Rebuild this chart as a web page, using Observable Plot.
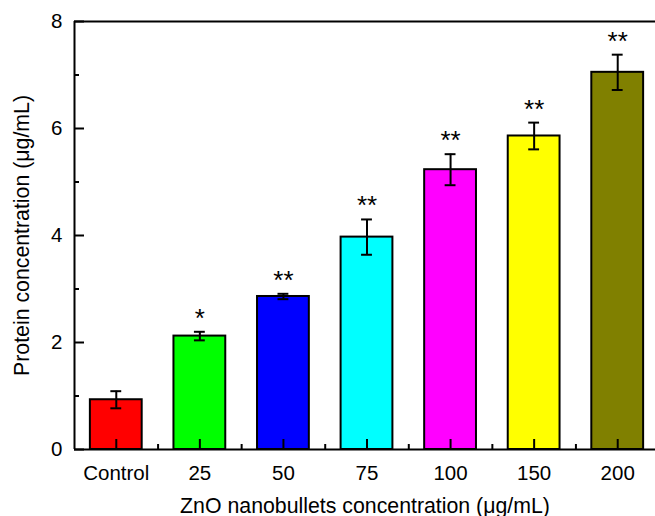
<!DOCTYPE html>
<html>
<head>
<meta charset="utf-8">
<script src="https://cdn.jsdelivr.net/npm/d3@7"></script>
<script src="https://cdn.jsdelivr.net/npm/@observablehq/plot@0.6"></script>
<style>
  html, body { margin: 0; padding: 0; background: white; }
</style>
</head>
<body>
<div id="chart"></div>
<script>
const categories = ["Control", "25", "50", "75", "100", "150", "200"];
const means = [0.93, 2.12, 2.86, 3.97, 5.23, 5.86, 7.05];
const errors = [0.16, 0.08, 0.05, 0.33, 0.29, 0.25, 0.33];
const colors = ["#ff0000", "#00ff00", "#0000ff", "#00ffff", "#ff00ff", "#ffff00", "#808000"];
const stars = ["", "*", "**", "**", "**", "**", "**"];
const yTicks = [0, 2, 4, 6, 8];
const yMinor = [1, 3, 5, 7];
const xMinor = [0.5, 1.5, 2.5, 3.5, 4.5, 5.5];
const xTitle = "ZnO nanobullets concentration (μg/mL)";
const yTitle = "Protein concentration (μg/mL)";

const data = categories.map((c, i) => ({
  i, c, mean: means[i], err: errors[i], color: colors[i], star: stars[i]
}));

const font = "'Liberation Sans', Arial, Helvetica, sans-serif";

const chart = Plot.plot({
  width: 655,
  height: 516,
  marginLeft: 74,
  marginRight: 0,
  marginTop: 21,
  marginBottom: 67,
  style: { fontFamily: font, fontSize: "20px", background: "white", color: "black" },
  x: { type: "linear", domain: [-0.5, 6.5], range: [74, 659], axis: null },
  y: { domain: [0, 8], axis: null },
  color: { type: "identity" },
  marks: [
    Plot.rectY(data, { x1: d => d.i - 0.31, x2: d => d.i + 0.31, y: "mean", fill: "color", stroke: "black", strokeWidth: 2 }),
    // error bars
    Plot.ruleX(data, { x: "i", y1: d => d.mean - d.err, y2: d => d.mean + d.err, stroke: "black", strokeWidth: 2 }),
    Plot.ruleY(data, { y: d => d.mean + d.err, x1: d => d.i - 0.065, x2: d => d.i + 0.065, stroke: "black", strokeWidth: 2 }),
    Plot.ruleY(data, { y: d => d.mean - d.err, x1: d => d.i - 0.065, x2: d => d.i + 0.065, stroke: "black", strokeWidth: 2 }),
    // significance stars
    Plot.text(data, { x: "i", y: d => d.mean + d.err, text: "star", lineAnchor: "bottom", dy: -5, fontSize: 26, fill: "black" }),
    // frame lines
    Plot.ruleY([0, 8], { stroke: "black", strokeWidth: 2 }),
    Plot.ruleX([-0.5], { y1: 0, y2: 8, stroke: "black", strokeWidth: 2 }),
    // inward ticks
    Plot.ruleX(data, { x: "i", y1: 0, y2: 0, insetTop: -10, stroke: "black", strokeWidth: 2 }),
    Plot.ruleX(xMinor, { x: d => d, y1: 0, y2: 0, insetTop: -5, stroke: "black", strokeWidth: 2 }),
    Plot.ruleY(yTicks, { y: d => d, x1: -0.5, x2: -0.5, insetRight: -10, stroke: "black", strokeWidth: 2 }),
    Plot.ruleY(yMinor, { y: d => d, x1: -0.5, x2: -0.5, insetRight: -5, stroke: "black", strokeWidth: 2 }),
    // tick labels
    Plot.axisY(yTicks, { tickSize: 0, tickPadding: 12, tickFormat: d => String(d), fontSize: 20.5, label: null }),
    Plot.axisX(data.map(d => d.i), { tickSize: 0, tickPadding: 16, tickFormat: i => categories[i], fontSize: 20.5, label: null }),
    // axis titles
    Plot.text([xTitle], { frameAnchor: "bottom", dy: 63, lineAnchor: "bottom", textAnchor: "middle", fontSize: 21.3, fill: "black" }),
    Plot.text([yTitle], { frameAnchor: "left", dx: -46, rotate: -90, lineAnchor: "bottom", textAnchor: "middle", fontSize: 21.3, fill: "black" })
  ]
});

document.getElementById("chart").appendChild(chart);
</script>
</body>
</html>
